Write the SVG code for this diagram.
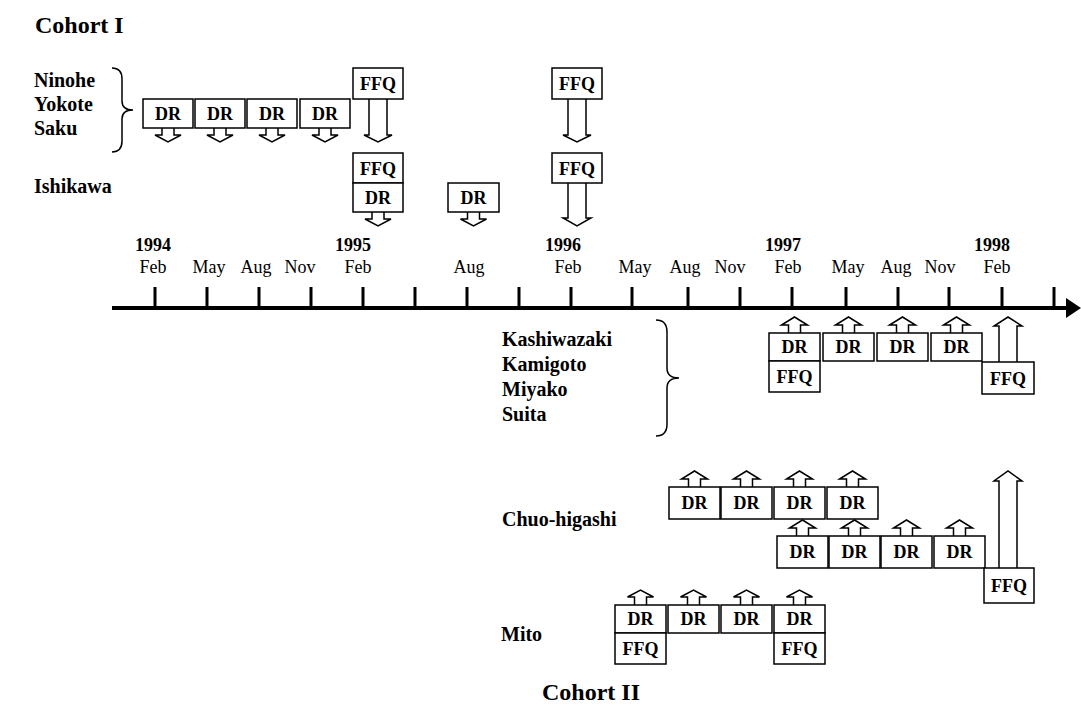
<svg xmlns="http://www.w3.org/2000/svg" width="1081" height="725" viewBox="0 0 1081 725">
<style>
text{font-family:"Liberation Serif","Times New Roman",serif;fill:#000}
.title{font-size:24px;font-weight:bold}
.lbl{font-size:20px;font-weight:bold}
.yr{font-size:18px;font-weight:bold;text-anchor:middle}
.mo{font-size:18px;text-anchor:middle}
.bt{font-size:18px;font-weight:bold;text-anchor:middle}
.box{fill:#fff;stroke:#000;stroke-width:1.5}
.arr{fill:#fff;stroke:#000;stroke-width:1.5;stroke-linejoin:miter}
.brace{fill:none;stroke:#000;stroke-width:1.5}
.tick{stroke:#000;stroke-width:3}
</style>
<rect width="1081" height="725" fill="#fff"/>

<text class="title" x="35" y="33">Cohort I</text>
<text class="title" x="542" y="700">Cohort II</text>

<g id="axis">
<line x1="112" y1="308" x2="1068" y2="308" stroke="#000" stroke-width="4"/>
<polygon points="1066,298 1081,308 1066,318" fill="#000"/>
<g class="tick">
<line x1="155" y1="287" x2="155" y2="308"/><line x1="207" y1="287" x2="207" y2="308"/>
<line x1="259" y1="287" x2="259" y2="308"/><line x1="311" y1="287" x2="311" y2="308"/>
<line x1="363" y1="287" x2="363" y2="308"/><line x1="415" y1="287" x2="415" y2="308"/>
<line x1="467" y1="287" x2="467" y2="308"/><line x1="519" y1="287" x2="519" y2="308"/>
<line x1="571" y1="287" x2="571" y2="308"/><line x1="632" y1="287" x2="632" y2="308"/>
<line x1="688" y1="287" x2="688" y2="308"/><line x1="740" y1="287" x2="740" y2="308"/>
<line x1="792" y1="287" x2="792" y2="308"/><line x1="846" y1="287" x2="846" y2="308"/>
<line x1="898" y1="287" x2="898" y2="308"/><line x1="949" y1="287" x2="949" y2="308"/>
<line x1="1002" y1="287" x2="1002" y2="308"/><line x1="1054" y1="287" x2="1054" y2="308"/>
</g>
<text class="yr" x="153" y="251">1994</text>
<text class="yr" x="353" y="251">1995</text>
<text class="yr" x="563" y="251">1996</text>
<text class="yr" x="783" y="251">1997</text>
<text class="yr" x="992" y="251">1998</text>
<text class="mo" x="153" y="273">Feb</text>
<text class="mo" x="209" y="273">May</text>
<text class="mo" x="256" y="273">Aug</text>
<text class="mo" x="300" y="273">Nov</text>
<text class="mo" x="358" y="273">Feb</text>
<text class="mo" x="469" y="273">Aug</text>
<text class="mo" x="568" y="273">Feb</text>
<text class="mo" x="635" y="273">May</text>
<text class="mo" x="685" y="273">Aug</text>
<text class="mo" x="730" y="273">Nov</text>
<text class="mo" x="788" y="273">Feb</text>
<text class="mo" x="848" y="273">May</text>
<text class="mo" x="896" y="273">Aug</text>
<text class="mo" x="940" y="273">Nov</text>
<text class="mo" x="997" y="273">Feb</text>
</g>

<g id="labels">
<text class="lbl" x="34" y="87">Ninohe</text>
<text class="lbl" x="34" y="111">Yokote</text>
<text class="lbl" x="34" y="135">Saku</text>
<text class="lbl" x="34" y="193">Ishikawa</text>
<path class="brace" d="M112,68 Q122,68 122,79 L122,101 Q122,110 133,110 Q122,110 122,119 L122,141 Q122,152 112,152"/>
<text class="lbl" x="502" y="346">Kashiwazaki</text>
<text class="lbl" x="502" y="371">Kamigoto</text>
<text class="lbl" x="502" y="396">Miyako</text>
<text class="lbl" x="502" y="421">Suita</text>
<path class="brace" d="M656,320 Q667,320 667,332 L667,368 Q667,378 679,378 Q667,378 667,388 L667,424 Q667,436 656,436"/>
<text class="lbl" x="502" y="526">Chuo-higashi</text>
<text class="lbl" x="501" y="641">Mito</text>
</g>

<g id="connectors">
<path class="arr" d="M162,128 V135 H155 L168,142 L181,135 H174 V128"/>
<path class="arr" d="M214,128 V135 H207 L220,142 L233,135 H226 V128"/>
<path class="arr" d="M266,128 V135 H259 L272,142 L285,135 H278 V128"/>
<path class="arr" d="M319,128 V135 H312 L325,142 L338,135 H331 V128"/>
<path class="arr" d="M369,99 V135 H364 L378,142 L392,135 H387 V99"/>
<path class="arr" d="M372,212 V219 H365 L378,226 L391,219 H384 V212"/>
<path class="arr" d="M467.5,212 V219 H460.5 L473.5,226 L486.5,219 H479.5 V212"/>
<path class="arr" d="M568,99 V135 H563 L577,142 L591,135 H586 V99"/>
<path class="arr" d="M568,183 V218 H563 L577,226 L591,218 H586 V183"/>
<path class="arr" d="M788.5,333 V325 H781.5 L794.5,317 L807.5,325 H800.5 V333"/>
<path class="arr" d="M842.5,333 V325 H835.5 L848.5,317 L861.5,325 H854.5 V333"/>
<path class="arr" d="M896.5,333 V325 H889.5 L902.5,317 L915.5,325 H908.5 V333"/>
<path class="arr" d="M950.5,333 V325 H943.5 L956.5,317 L969.5,325 H962.5 V333"/>
<path class="arr" d="M999,362 V326 H994 L1008,317 L1022,326 H1017 V362"/>
<path class="arr" d="M688.5,487 V479 H681.5 L694.5,471 L707.5,479 H700.5 V487"/>
<path class="arr" d="M740.5,487 V479 H733.5 L746.5,471 L759.5,479 H752.5 V487"/>
<path class="arr" d="M793.5,487 V479 H786.5 L799.5,471 L812.5,479 H805.5 V487"/>
<path class="arr" d="M846.5,487 V479 H839.5 L852.5,471 L865.5,479 H858.5 V487"/>
<path class="arr" d="M796.5,536 V528 H789.5 L802.5,520 L815.5,528 H808.5 V536"/>
<path class="arr" d="M848.5,536 V528 H841.5 L854.5,520 L867.5,528 H860.5 V536"/>
<path class="arr" d="M900.5,536 V528 H893.5 L906.5,520 L919.5,528 H912.5 V536"/>
<path class="arr" d="M953.5,536 V528 H946.5 L959.5,520 L972.5,528 H965.5 V536"/>
<path class="arr" d="M999,568 V481 H994 L1008,471 L1022,481 H1017 V568"/>
<path class="arr" d="M634.5,605 V597 H627.5 L640.5,590 L653.5,597 H646.5 V605"/>
<path class="arr" d="M687.5,605 V597 H680.5 L693.5,590 L706.5,597 H699.5 V605"/>
<path class="arr" d="M740.5,605 V597 H733.5 L746.5,590 L759.5,597 H752.5 V605"/>
<path class="arr" d="M793.5,605 V597 H786.5 L799.5,590 L812.5,597 H805.5 V605"/>
</g>

<g id="c1-dr1"><rect class="box" x="143" y="99" width="50" height="29"/><text class="bt" x="168" y="120">DR</text></g>
<g id="c1-dr2"><rect class="box" x="195" y="99" width="50" height="29"/><text class="bt" x="220" y="120">DR</text></g>
<g id="c1-dr3"><rect class="box" x="247" y="99" width="50" height="29"/><text class="bt" x="272" y="120">DR</text></g>
<g id="c1-dr4"><rect class="box" x="300" y="99" width="50" height="29"/><text class="bt" x="325" y="120">DR</text></g>
<g id="c1-ffq95a"><rect class="box" x="353" y="68" width="50" height="31"/><text class="bt" x="378" y="90">FFQ</text></g>
<g id="c1-ffq95b"><rect class="box" x="353" y="153" width="50" height="30"/><text class="bt" x="378" y="175">FFQ</text></g>
<g id="c1-dr95"><rect class="box" x="353" y="183" width="50" height="29"/><text class="bt" x="378" y="204">DR</text></g>
<g id="c1-draug"><rect class="box" x="448" y="183" width="51" height="29"/><text class="bt" x="473.5" y="204">DR</text></g>
<g id="c1-ffq96a"><rect class="box" x="552" y="68" width="50" height="31"/><text class="bt" x="577" y="90">FFQ</text></g>
<g id="c1-ffq96b"><rect class="box" x="552" y="153" width="50" height="30"/><text class="bt" x="577" y="175">FFQ</text></g>

<g id="k-dr1"><rect class="box" x="769" y="333" width="51" height="28"/><text class="bt" x="794.5" y="353">DR</text></g>
<g id="k-dr2"><rect class="box" x="823" y="333" width="51" height="28"/><text class="bt" x="848.5" y="353">DR</text></g>
<g id="k-dr3"><rect class="box" x="877" y="333" width="51" height="28"/><text class="bt" x="902.5" y="353">DR</text></g>
<g id="k-dr4"><rect class="box" x="931" y="333" width="51" height="28"/><text class="bt" x="956.5" y="353">DR</text></g>
<g id="k-ffq1"><rect class="box" x="769" y="361" width="51" height="31"/><text class="bt" x="794.5" y="383">FFQ</text></g>
<g id="k-ffq2"><rect class="box" x="982" y="362" width="52" height="32"/><text class="bt" x="1008" y="385">FFQ</text></g>

<g id="ch-dr1"><rect class="box" x="669" y="487" width="51" height="32"/><text class="bt" x="694.5" y="509">DR</text></g>
<g id="ch-dr2"><rect class="box" x="721" y="487" width="51" height="32"/><text class="bt" x="746.5" y="509">DR</text></g>
<g id="ch-dr3"><rect class="box" x="774" y="487" width="51" height="32"/><text class="bt" x="799.5" y="509">DR</text></g>
<g id="ch-dr4"><rect class="box" x="827" y="487" width="51" height="32"/><text class="bt" x="852.5" y="509">DR</text></g>
<g id="ch-dr5"><rect class="box" x="777" y="536" width="51" height="32"/><text class="bt" x="802.5" y="558">DR</text></g>
<g id="ch-dr6"><rect class="box" x="829" y="536" width="51" height="32"/><text class="bt" x="854.5" y="558">DR</text></g>
<g id="ch-dr7"><rect class="box" x="881" y="536" width="51" height="32"/><text class="bt" x="906.5" y="558">DR</text></g>
<g id="ch-dr8"><rect class="box" x="934" y="536" width="51" height="32"/><text class="bt" x="959.5" y="558">DR</text></g>
<g id="ch-ffq"><rect class="box" x="984" y="568" width="50" height="35"/><text class="bt" x="1009" y="592">FFQ</text></g>

<g id="m-dr1"><rect class="box" x="615" y="605" width="51" height="28"/><text class="bt" x="640.5" y="625">DR</text></g>
<g id="m-dr2"><rect class="box" x="668" y="605" width="51" height="28"/><text class="bt" x="693.5" y="625">DR</text></g>
<g id="m-dr3"><rect class="box" x="721" y="605" width="51" height="28"/><text class="bt" x="746.5" y="625">DR</text></g>
<g id="m-dr4"><rect class="box" x="774" y="605" width="51" height="28"/><text class="bt" x="799.5" y="625">DR</text></g>
<g id="m-ffq1"><rect class="box" x="615" y="633" width="51" height="31"/><text class="bt" x="640.5" y="655">FFQ</text></g>
<g id="m-ffq2"><rect class="box" x="774" y="633" width="51" height="31"/><text class="bt" x="799.5" y="655">FFQ</text></g>
</svg>
